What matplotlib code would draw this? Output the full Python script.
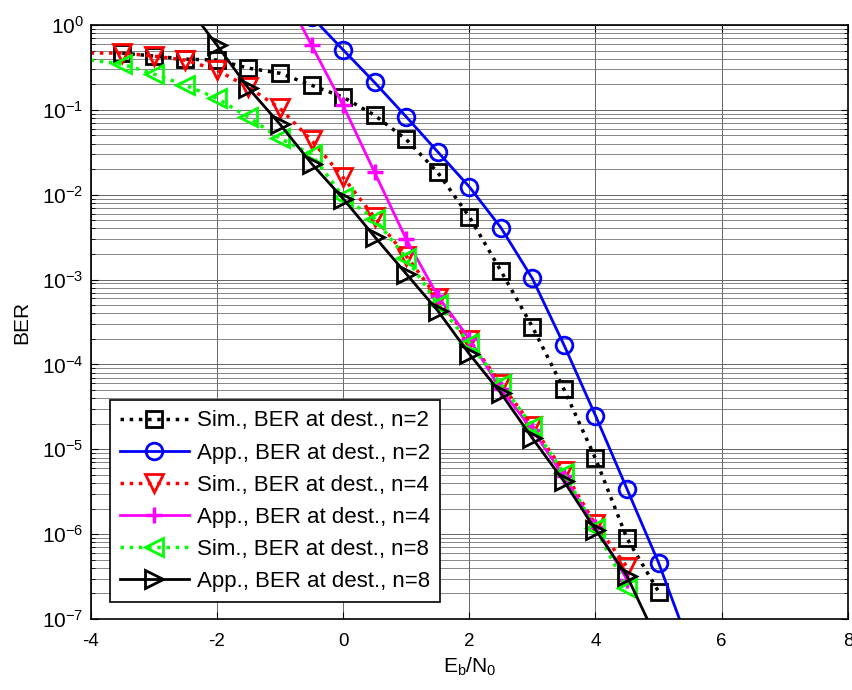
import numpy as np
import matplotlib
matplotlib.use("Agg")
import matplotlib.pyplot as plt
from matplotlib.ticker import LogLocator, NullFormatter, MultipleLocator

plt.rcParams['font.family'] = ['Liberation Sans', 'DejaVu Sans']
plt.rcParams['mathtext.default'] = 'regular'
plt.rcParams['axes.unicode_minus'] = False

# Sim., n=2
x_sim2 = [-3.5, -3, -2.5, -2, -1.5, -1, -0.5, 0, 0.5, 1, 1.5, 2, 2.5, 3, 3.5, 4, 4.5, 5]
ber_sim2 = [0.467, 0.43, 0.396, 0.386, 0.31, 0.27, 0.195, 0.141, 0.0863, 0.0449, 0.0183,
            0.0055, 1.27e-3, 2.77e-4, 5.1e-5, 7.8e-6, 8.9e-7, 2.1e-7]

# App., n=2
x_app2 = [-0.5, 0, 0.5, 1, 1.5, 2, 2.5, 3, 3.5, 4, 4.5, 5, 5.5]
ber_app2 = [1.25, 0.51, 0.21, 0.083, 0.032, 0.0124, 4.1e-3, 1.03e-3, 1.7e-4, 2.5e-5,
            3.4e-6, 4.6e-7, 4.6e-8]

# Sim., n=4
x_sim4 = [-4, -3.5, -3, -2.5, -2, -1.5, -1, -0.5, 0, 0.5, 1, 1.5, 2, 2.5, 3, 3.5, 4, 4.5]
ber_sim4 = [0.467, 0.467, 0.43, 0.386, 0.294, 0.185, 0.104, 0.0437, 0.016, 5.4e-3, 1.9e-3,
            6.1e-4, 1.95e-4, 5.9e-5, 1.87e-5, 5.5e-6, 1.3e-6, 4.1e-7]

# App., n=4
x_app4 = [-1, -0.5, 0, 0.5, 1, 1.5, 2, 2.5, 3, 3.5, 4, 4.5]
ber_app4 = [3.0, 0.58, 0.113, 0.0183, 3.0e-3, 6.4e-4, 2.0e-4, 5.1e-5, 1.7e-5, 4.8e-6,
            1.23e-6, 2.9e-7]

# Sim., n=8
x_sim8 = [-4, -3.5, -3, -2.5, -2, -1.5, -1, -0.5, 0, 0.5, 1, 1.5, 2, 2.5, 3, 3.5, 4, 4.5]
ber_sim8 = [0.386, 0.346, 0.264, 0.195, 0.137, 0.0818, 0.0461, 0.0299, 0.0095, 5.2e-3,
            1.8e-3, 5.2e-4, 1.8e-4, 5.9e-5, 1.87e-5, 5.2e-6, 1.17e-6, 2.3e-7]

# App., n=8
x_app8 = [-2.5, -2, -1.5, -1, -0.5, 0, 0.5, 1, 1.5, 2, 2.5, 3, 3.5, 4, 4.5, 5]
ber_app8 = [1.8, 0.58, 0.18, 0.0676, 0.0233, 9.0e-3, 3.2e-3, 1.17e-3, 4.3e-4, 1.33e-4,
            4.6e-5, 1.35e-5, 4.2e-6, 1.13e-6, 3.2e-7, 5.2e-8]

labels = ["Sim., BER at dest., n=2", "App., BER at dest., n=2",
          "Sim., BER at dest., n=4", "App., BER at dest., n=4",
          "Sim., BER at dest., n=8", "App., BER at dest., n=8"]

fig = plt.figure(figsize=(8.53, 6.9), dpi=100)
ax = fig.add_axes([0.1063, 0.1029, 0.8877, 0.8609])

mk = dict(markeredgewidth=2, markerfacecolor='none')
ax.semilogy(x_sim2, ber_sim2, ':', color='k', lw=2.5, marker='s', markersize=11,
            label=labels[0], **mk)
ax.semilogy(x_app2, ber_app2, '-', color='#0000ff', lw=2, marker='o', markersize=12,
            label=labels[1], **mk)
ax.semilogy(x_sim4, ber_sim4, ':', color='#ff0000', lw=2.5, marker='v', markersize=13,
            label=labels[2], markevery=slice(1, None), **mk)
ax.semilogy(x_app4, ber_app4, '-', color='#ff00ff', lw=2, marker='+', label=labels[3],
            markersize=11, markeredgewidth=2.5)
ax.semilogy(x_sim8, ber_sim8, ':', color='#00ff00', lw=2.5, marker='<', markersize=13,
            label=labels[4], markevery=slice(1, None), **mk)
ax.semilogy(x_app8, ber_app8, '-', color='k', lw=2, marker='>', markersize=13,
            label=labels[5], **mk)

ax.set_xlim(-4, 8)
ax.set_ylim(1e-7, 1)
ax.xaxis.set_major_locator(MultipleLocator(2))
ax.yaxis.set_major_locator(LogLocator(base=10, numticks=20))
ax.yaxis.set_minor_locator(LogLocator(base=10, subs=np.arange(2, 10), numticks=20))
ax.yaxis.set_minor_formatter(NullFormatter())

ax.grid(True, which='major', color='0.4', lw=0.7)
ax.grid(True, which='minor', axis='y', color='0.45', lw=0.6)
ax.tick_params(which='both', direction='in', top=True, right=True)
ax.tick_params(axis='x', labelsize=13.5, pad=10)
ax.tick_params(axis='y', labelsize=15, pad=5)
ax.tick_params(which='major', length=5)
ax.tick_params(which='minor', length=3)
for s in ax.spines.values():
    s.set_linewidth(1.2)

ax.set_xlabel("E$_b$/N$_0$", fontsize=15, labelpad=4)
ax.set_ylabel("BER", fontsize=15, labelpad=8)

leg = ax.legend(loc='lower left', bbox_to_anchor=(0.0255, 0.0286), fontsize=16,
                handlelength=3.1, handletextpad=0.36, labelspacing=0.5, borderpad=0.45,
                borderaxespad=0, fancybox=False, framealpha=1, edgecolor='k')
leg.get_frame().set_linewidth(1.2)

fig.savefig("out.png", dpi=100)
